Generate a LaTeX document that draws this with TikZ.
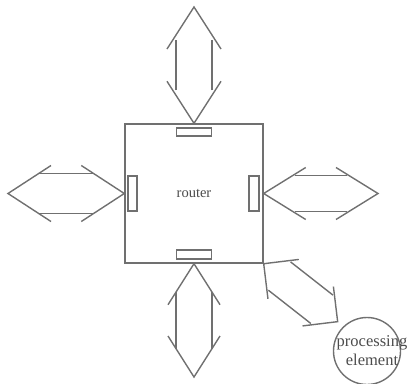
\documentclass[tikz,border=0pt]{standalone}
\usepackage{fontspec}
\setmainfont{Liberation Serif}
\usetikzlibrary{positioning}
\usetikzlibrary{calc}
\definecolor{diagramgray}{RGB}{112,112,112}

% open two-way arrow: from, to, head length, head half width, shaft half width, shaft inset
\newcommand{\twowayarrow}[6]{%
    \draw[arrowline] ($(#1)!#3!(#2)!#4!90:(#2)$) -- (#1) -- ($(#1)!#3!(#2)!#4!-90:(#2)$);
    \draw[arrowline] ($(#2)!#3!(#1)!#4!90:(#1)$) -- (#2) -- ($(#2)!#3!(#1)!#4!-90:(#1)$);
    \draw[arrowline] ($(#1)!#6!(#2)!#5!90:(#2)$) -- ($(#2)!#6!(#1)!#5!-90:(#1)$);
    \draw[arrowline] ($(#1)!#6!(#2)!#5!-90:(#2)$) -- ($(#2)!#6!(#1)!#5!90:(#1)$);
}

\begin{document}
\begin{tikzpicture}[x=1pt, y=-1pt, every node/.style={align=center, text=black!70},
    arrowline/.style={draw=diagramgray, line width=1.4pt},
    portbox/.style={draw=diagramgray, line width=1.4pt, inner sep=0pt}]
    \useasboundingbox (0,0) rectangle (407,383);

    % Router
    \node[draw=diagramgray, line width=1.4pt, minimum width=138pt, minimum height=139pt,
        font=\fontsize{14.5}{16}\selectfont] (router) at (194,193.5) {router};

    % Ports
    \node[portbox, minimum width=35pt, minimum height=8pt, below=4pt of router.north] (portN) {};
    \node[portbox, minimum width=35pt, minimum height=9pt, above=4pt of router.south] (portS) {};
    \node[portbox, minimum width=9pt, minimum height=35pt, right=3pt of router.west] (portW) {};
    \node[portbox, minimum width=10pt, minimum height=35pt, left=4pt of router.east] (portE) {};

    % Processing element
    \node[circle, draw=diagramgray, line width=1.4pt, minimum size=67pt, outer sep=8pt] (pe) at (367,351) {};
    \node[font=\fontsize{16.5}{19}\selectfont] (peLabel) at ([xshift=5pt]pe.center) {processing\\element};

    % Free ends
    \coordinate (topEnd) at (194,7);
    \coordinate (leftEnd) at (8,193.5);
    \coordinate (rightEnd) at (378,193.5);
    \coordinate (bottomEnd) at (194,377);

    % Links
    \twowayarrow{router.north}{topEnd}{42pt}{27pt}{18pt}{33pt}
    \twowayarrow{router.west}{leftEnd}{43pt}{28pt}{20pt}{31pt}
    \twowayarrow{router.east}{rightEnd}{42pt}{26pt}{18pt}{31pt}
    \twowayarrow{router.south}{bottomEnd}{41pt}{26pt}{18pt}{28pt}
    \twowayarrow{router.south east}{pe.north west}{25pt}{25pt}{18pt}{20pt}

\end{tikzpicture}
\end{document}
